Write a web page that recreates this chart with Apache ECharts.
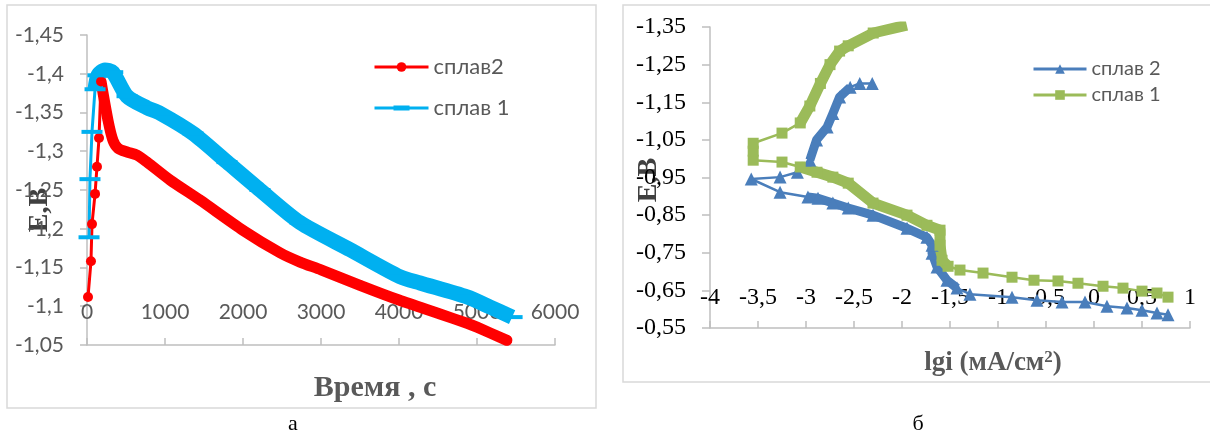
<!DOCTYPE html>
<html><head><meta charset="utf-8">
<script src="https://cdn.jsdelivr.net/npm/echarts@6/dist/echarts.min.js"></script>
<style>html,body{margin:0;padding:0;background:#fff}#c{width:1210px;height:436px}</style>
</head><body><div id="c"></div>
<script>
// ---------- Chart а : E (В) vs time (с) ----------
const timeSplav2 = [13, 51, 64, 103, 128, 154, 180, 269, 333, 397, 513, 641, 770, 1064, 1449, 2000, 2474, 2731, 3000, 3500, 4000, 4526, 4872, 5000, 5384];
const eSplav2    = [-1.112, -1.158, -1.206, -1.245, -1.280, -1.317, -1.390, -1.340, -1.314, -1.304, -1.299, -1.295, -1.286, -1.263, -1.237, -1.198, -1.169, -1.157, -1.147, -1.127, -1.108, -1.090, -1.078, -1.073, -1.056];
const timeSplav1 = [26, 38, 64, 103, 140, 230, 330, 513, 770, 936, 1359, 1795, 2218, 2731, 3372, 4013, 4270, 4872, 5167, 5450];
const eSplav1    = [-1.189, -1.264, -1.325, -1.380, -1.398, -1.405, -1.402, -1.371, -1.356, -1.349, -1.323, -1.286, -1.250, -1.208, -1.173, -1.138, -1.130, -1.112, -1.099, -1.086];
const timeTickLabels = [0, 1000, 2000, 3000, 4000, 5000, 6000];
const eTickLabelsA = [-1.45, -1.4, -1.35, -1.3, -1.25, -1.2, -1.15, -1.1, -1.05];

// ---------- Chart б : E (В) vs lgi (мА/см²) ----------
const lgiSplav2 = [0.771, 0.656, 0.500, 0.344, 0.135, -0.094, -0.333, -0.594, -0.854, -1.292, -1.427, -1.531, -1.635, -1.687, -1.687, -1.740, -1.948, -2.302, -2.56, -2.72, -2.875, -2.98, -3.27, -3.57, -3.27, -3.09, -2.96, -2.89, -2.78, -2.72, -2.65, -2.54, -2.44, -2.31];
const eSplav2b  = [-0.585, -0.590, -0.597, -0.603, -0.608, -0.619, -0.619, -0.624, -0.632, -0.640, -0.656, -0.677, -0.712, -0.749, -0.770, -0.791, -0.815, -0.850, -0.869, -0.882, -0.895, -0.898, -0.911, -0.946, -0.951, -0.964, -0.996, -1.050, -1.084, -1.120, -1.164, -1.190, -1.200, -1.200];
const lgiSplav1 = [0.771, 0.656, 0.500, 0.302, 0.094, -0.167, -0.375, -0.625, -0.854, -1.156, -1.396, -1.52, -1.583, -1.604, -1.604, -1.740, -1.948, -2.302, -2.56, -2.72, -2.885, -3.06, -3.25, -3.55, -3.55, -3.55, -3.25, -3.06, -2.96, -2.85, -2.75, -2.65, -2.56, -2.30, -1.95];
const eSplav1b  = [-0.632, -0.643, -0.648, -0.656, -0.661, -0.669, -0.675, -0.677, -0.685, -0.696, -0.704, -0.714, -0.730, -0.770, -0.810, -0.823, -0.850, -0.882, -0.935, -0.951, -0.964, -0.978, -0.991, -0.996, -1.020, -1.041, -1.068, -1.095, -1.140, -1.200, -1.250, -1.286, -1.300, -1.334, -1.355];
const lgiTickLabels = [-4, -3.5, -3, -2.5, -2, -1.5, -1, -0.5, 0, 0.5, 1];
const eTickLabelsB = [-1.35, -1.25, -1.15, -1.05, -0.95, -0.85, -0.75, -0.65, -0.55];

// ---------- helpers ----------
const pairs = (xs, ys, a = 0, b = xs.length) => xs.slice(a, b).map((x, i) => [x, ys[a + i]]);
const comma = v => String(Math.round(v * 100) / 100).replace('.', ',');

const sansA = 'Lato, "Open Sans", sans-serif';
const serif = '"Liberation Serif", "Times New Roman", serif';
const grayTxt = '#595959';
const axisGray = '#bfbfbf';

const RED = '#ff0000', CYAN = '#00b0f0', BLUE = '#4a7ebb', GREEN = '#9bbb59';
const DASH = 'path://M0,0h21v4h-21z';

const chart = echarts.init(document.getElementById('c'), null, {renderer: 'canvas'});

const option = {
  animation: false,
  backgroundColor: '#fff',
  grid: [
    {left: 87, top: 35, width: 468, height: 310, outerBoundsMode: 'none'},
    {left: 710, top: 27, width: 480, height: 301, outerBoundsMode: 'none'}
  ],
  xAxis: [
    {
      gridIndex: 0, type: 'value', min: 0, max: 6000, interval: 1000,
      axisLine: {show: true, onZero: false, lineStyle: {color: axisGray, width: 1.5}},
      axisTick: {show: true, inside: true, length: 7, lineStyle: {color: axisGray, width: 1.5}},
      axisLabel: {inside: true, margin: 22, color: grayTxt, fontFamily: sansA, fontSize: 21,
        formatter: v => timeTickLabels.includes(v) ? comma(v) : ''},
      splitLine: {show: false}
    },
    {
      gridIndex: 1, type: 'value', min: -4, max: 1, interval: 0.5,
      axisLine: {show: true, onZero: false, lineStyle: {color: axisGray, width: 1.5}},
      axisTick: {show: true, inside: true, length: 7, lineStyle: {color: axisGray, width: 1.5}},
      axisLabel: {inside: true, margin: 18, color: '#000', fontFamily: serif, fontSize: 24,
        formatter: v => lgiTickLabels.some(t => Math.abs(t - v) < 1e-6) ? comma(v) : ''},
      splitLine: {show: false}
    }
  ],
  yAxis: [
    {
      gridIndex: 0, type: 'value', inverse: true, min: -1.45, max: -1.05, interval: 0.05,
      axisLine: {show: true, onZero: false, lineStyle: {color: axisGray, width: 1.5}},
      axisTick: {show: true, inside: false, length: 7, lineStyle: {color: axisGray, width: 1.5}},
      axisLabel: {margin: 23, color: grayTxt, fontFamily: sansA, fontSize: 21,
        formatter: v => eTickLabelsA.some(t => Math.abs(t - v) < 1e-6) ? comma(v) : ''},
      splitLine: {show: false}
    },
    {
      gridIndex: 1, type: 'value', inverse: true, min: -1.35, max: -0.55, interval: 0.1,
      axisLine: {show: true, onZero: false, lineStyle: {color: axisGray, width: 1.5}},
      axisTick: {show: true, inside: false, length: 8, lineStyle: {color: axisGray, width: 1.5},
        customValues: eTickLabelsB},
      axisLabel: {margin: 24, color: '#000', fontFamily: serif, fontSize: 24,
        customValues: eTickLabelsB, formatter: v => comma(v)},
      splitLine: {show: false}
    }
  ],
  legend: [
    {
      data: [
        {name: 'сплав2', lineStyle: {width: 3}},
        {name: 'сплав 1', icon: 'path://M0,1h54v3h-54zM19,0h16v5h-16z'}
      ],
      orient: 'vertical', left: 373, top: 56, padding: 0, itemWidth: 54, itemHeight: 12, itemGap: 19,
      textStyle: {fontFamily: sansA, fontSize: 22, color: grayTxt}
    },
    {
      data: [
        {name: 'б|сплав 2', lineStyle: {width: 3}},
        {name: 'б|сплав 1', lineStyle: {width: 3}}
      ],
      formatter: n => n.split('|').pop(),
      orient: 'vertical', left: 1032, top: 59, padding: 0, itemWidth: 53, itemHeight: 12, itemGap: 6,
      textStyle: {fontFamily: sansA, fontSize: 20, color: grayTxt}
    }
  ],
  series: [
    // chart а
    {name: 'сплав2', type: 'line', xAxisIndex: 0, yAxisIndex: 0, data: pairs(timeSplav2, eSplav2),
      symbol: 'circle', symbolSize: 10, showAllSymbol: true, color: RED,
      lineStyle: {width: 3, color: RED}, itemStyle: {color: RED}},
    {name: 'сплав2', type: 'line', xAxisIndex: 0, yAxisIndex: 0, data: pairs(timeSplav2, eSplav2, 6),
      symbol: 'none', color: RED, silent: true, smooth: 0.25,
      lineStyle: {width: 11, color: RED, cap: 'round', join: 'round'}},
    {name: 'сплав 1', type: 'line', xAxisIndex: 0, yAxisIndex: 0, data: pairs(timeSplav1, eSplav1),
      symbol: DASH, symbolSize: [21, 4], showAllSymbol: true, color: CYAN,
      lineStyle: {width: 3, color: CYAN}, itemStyle: {color: CYAN}},
    {name: 'сплав 1', type: 'line', xAxisIndex: 0, yAxisIndex: 0, data: pairs(timeSplav1, eSplav1, 3),
      symbol: 'none', color: CYAN, silent: true, smooth: 0.25,
      lineStyle: {width: 15, color: CYAN, cap: 'butt', join: 'round'}},
    // chart б
    {name: 'б|сплав 2', type: 'line', xAxisIndex: 1, yAxisIndex: 1, data: pairs(lgiSplav2, eSplav2b),
      symbol: 'triangle', symbolSize: 13, showAllSymbol: true, color: BLUE,
      lineStyle: {width: 2.5, color: BLUE}, itemStyle: {color: BLUE}},
    {name: 'б|сплав 2', type: 'line', xAxisIndex: 1, yAxisIndex: 1, data: pairs(lgiSplav2, eSplav2b, 10, 22),
      symbol: 'none', color: BLUE, silent: true, lineStyle: {width: 9, color: BLUE, join: 'round'}},
    {name: 'б|сплав 2', type: 'line', xAxisIndex: 1, yAxisIndex: 1, data: pairs(lgiSplav2, eSplav2b, 26, 32),
      symbol: 'none', color: BLUE, silent: true, lineStyle: {width: 9, color: BLUE, join: 'round'}},
    {name: 'б|сплав 1', type: 'line', xAxisIndex: 1, yAxisIndex: 1, data: pairs(lgiSplav1, eSplav1b),
      symbol: 'rect', symbolSize: 11, showAllSymbol: true, color: GREEN,
      lineStyle: {width: 2.5, color: GREEN}, itemStyle: {color: GREEN}},
    {name: 'б|сплав 1', type: 'line', xAxisIndex: 1, yAxisIndex: 1, data: pairs(lgiSplav1, eSplav1b, 11, 22),
      symbol: 'none', color: GREEN, silent: true, lineStyle: {width: 11, color: GREEN, join: 'round'}},
    {name: 'б|сплав 1', type: 'line', xAxisIndex: 1, yAxisIndex: 1, data: pairs(lgiSplav1, eSplav1b, 27),
      symbol: 'none', color: GREEN, silent: true, lineStyle: {width: 11, color: GREEN, join: 'round'}}
  ],
  graphic: [
    {type: 'rect', shape: {x: 7, y: 5, width: 589, height: 403}, style: {fill: 'none', stroke: '#d9d9d9', lineWidth: 1.5}, silent: true, z: -1},
    {type: 'rect', shape: {x: 623, y: 5, width: 620, height: 377}, style: {fill: 'none', stroke: '#d9d9d9', lineWidth: 1.5}, silent: true, z: -1},
    {type: 'text', x: 40, y: 210, rotation: Math.PI / 2,
      style: {text: 'Е,В', x: 0, y: 0, align: 'center', verticalAlign: 'middle', fill: '#404040', font: 'bold 28px ' + serif}},
    {type: 'text', x: 375, y: 388,
      style: {text: 'Время , с', x: 0, y: 0, align: 'center', verticalAlign: 'middle', fill: grayTxt, font: 'bold 30px ' + serif}},
    {type: 'text', x: 649, y: 180, rotation: Math.PI / 2,
      style: {text: 'Е,В', x: 0, y: 0, align: 'center', verticalAlign: 'middle', fill: '#404040', font: 'bold 28px ' + serif}},
    {type: 'text', x: 993, y: 363,
      style: {text: '{a|lgi (мА/см}{s|2}{a|)}', x: 0, y: 0, align: 'center', verticalAlign: 'middle',
        rich: {a: {fill: grayTxt, font: 'bold 27px ' + serif}, s: {fill: grayTxt, font: 'bold 17px ' + serif, verticalAlign: 'top', padding: [0, 0, 10, 0]}}}},
    {type: 'text', x: 293, y: 424,
      style: {text: 'а', x: 0, y: 0, align: 'center', verticalAlign: 'middle', fill: '#000', font: '22px ' + serif}},
    {type: 'text', x: 918, y: 424,
      style: {text: 'б', x: 0, y: 0, align: 'center', verticalAlign: 'middle', fill: '#000', font: '22px ' + serif}}
  ]
};
chart.setOption(option);
</script>
</body></html>
